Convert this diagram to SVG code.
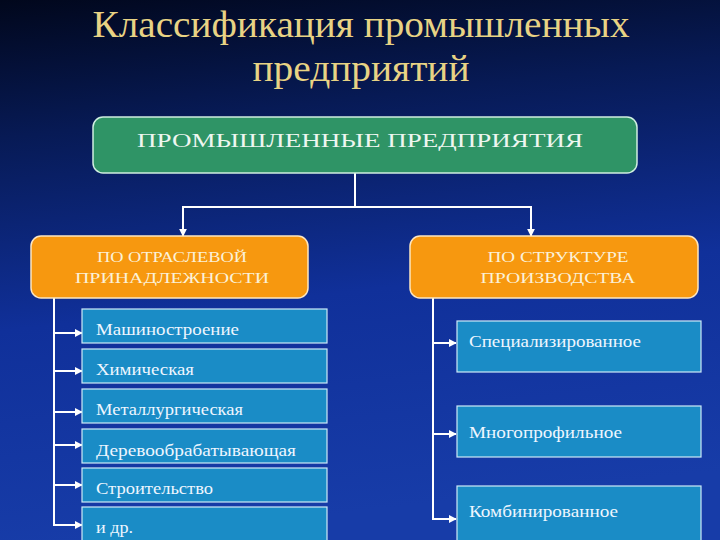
<svg xmlns="http://www.w3.org/2000/svg" width="720" height="540" viewBox="0 0 720 540">
<defs>
<linearGradient id="bg" x1="0" y1="0" x2="0.15" y2="1">
<stop offset="0" stop-color="#01071c"/>
<stop offset="0.25" stop-color="#071a55"/>
<stop offset="0.6" stop-color="#10309a"/>
<stop offset="1" stop-color="#173ca8"/>
</linearGradient>
<marker id="ah" viewBox="0 0 10 10" refX="9" refY="5" markerWidth="4" markerHeight="4" orient="auto" markerUnits="strokeWidth">
<path d="M0,0 L10,5 L0,10 z" fill="#ffffff"/>
</marker>
<style>
.title{font-family:"Liberation Serif",serif;font-size:38px;fill:#e8d384;text-anchor:middle}
.green{fill:#2f9466;stroke:#cfeee0;stroke-width:1.5}
.orange{fill:#f7980f;stroke:#fde6c0;stroke-width:1.5}
.blue{fill:#1a8cc6;stroke:#cde9f7;stroke-width:1.2}
.ht{font-family:"Liberation Serif",serif;font-size:19px;fill:#eef6f0;text-anchor:middle}
.ot{font-family:"Liberation Serif",serif;font-size:15px;fill:#fbf1d8;text-anchor:middle}
.bt{font-family:"Liberation Serif",serif;font-size:16px;fill:#eef6ff}
.ln{fill:none;stroke:#ffffff;stroke-width:2}
</style>
</defs>
<rect width="720" height="540" fill="url(#bg)"/>
<text class="title" x="361" y="37" textLength="537" lengthAdjust="spacingAndGlyphs">Классификация промышленных</text>
<text class="title" x="361" y="81" textLength="217" lengthAdjust="spacingAndGlyphs">предприятий</text>

<g id="connectors">
<path class="ln" d="M355,173 V207 M183,207 H531"/>
<path class="ln" d="M183,206 V236" marker-end="url(#ah)"/>
<path class="ln" d="M531,206 V236" marker-end="url(#ah)"/>
<path class="ln" d="M54,298 V526"/>
<path class="ln" d="M53,333 H82" marker-end="url(#ah)"/>
<path class="ln" d="M53,371 H82" marker-end="url(#ah)"/>
<path class="ln" d="M53,412 H82" marker-end="url(#ah)"/>
<path class="ln" d="M53,445 H82" marker-end="url(#ah)"/>
<path class="ln" d="M53,485 H82" marker-end="url(#ah)"/>
<path class="ln" d="M53,525 H82" marker-end="url(#ah)"/>
<path class="ln" d="M433,298 V520"/>
<path class="ln" d="M432,343 H456" marker-end="url(#ah)"/>
<path class="ln" d="M432,434 H456" marker-end="url(#ah)"/>
<path class="ln" d="M432,519 H456" marker-end="url(#ah)"/>
</g>

<g id="root">
<rect class="green" x="93" y="117" width="544" height="56" rx="10"/>
<text class="ht" x="360" y="147" textLength="446" lengthAdjust="spacingAndGlyphs">ПРОМЫШЛЕННЫЕ ПРЕДПРИЯТИЯ</text>
</g>
<g id="branch-left">
<rect class="orange" x="31" y="236" width="277" height="62" rx="10"/>
<text class="ot" x="172" y="262" textLength="150" lengthAdjust="spacingAndGlyphs">ПО ОТРАСЛЕВОЙ</text>
<text class="ot" x="172" y="283" textLength="194" lengthAdjust="spacingAndGlyphs">ПРИНАДЛЕЖНОСТИ</text>
</g>
<g id="branch-right">
<rect class="orange" x="410" y="236" width="288" height="62" rx="10"/>
<text class="ot" x="558" y="262" textLength="141" lengthAdjust="spacingAndGlyphs">ПО СТРУКТУРЕ</text>
<text class="ot" x="558" y="283" textLength="155" lengthAdjust="spacingAndGlyphs">ПРОИЗВОДСТВА</text>
</g>

<g id="n-mash"><rect class="blue" x="82" y="309" width="245" height="34"/><text class="bt" x="96" y="335" textLength="143" lengthAdjust="spacingAndGlyphs">Машиностроение</text></g>
<g id="n-him"><rect class="blue" x="82" y="349" width="245" height="34"/><text class="bt" x="96" y="375" textLength="98" lengthAdjust="spacingAndGlyphs">Химическая</text></g>
<g id="n-met"><rect class="blue" x="82" y="389" width="245" height="34"/><text class="bt" x="96" y="415" textLength="147" lengthAdjust="spacingAndGlyphs">Металлургическая</text></g>
<g id="n-der"><rect class="blue" x="82" y="429" width="245" height="34"/><text class="bt" x="96" y="456" textLength="200" lengthAdjust="spacingAndGlyphs">Деревообрабатывающая</text></g>
<g id="n-str"><rect class="blue" x="82" y="468" width="245" height="34"/><text class="bt" x="96" y="494" textLength="117" lengthAdjust="spacingAndGlyphs">Строительство</text></g>
<g id="n-dr"><rect class="blue" x="82" y="507" width="245" height="40"/><text class="bt" x="96" y="533" textLength="37" lengthAdjust="spacingAndGlyphs">и др.</text></g>

<g id="n-spec"><rect class="blue" x="457" y="321" width="244" height="51"/><text class="bt" x="469" y="347" textLength="172" lengthAdjust="spacingAndGlyphs">Специализированное</text></g>
<g id="n-mnog"><rect class="blue" x="457" y="406" width="244" height="51"/><text class="bt" x="469" y="438" textLength="153" lengthAdjust="spacingAndGlyphs">Многопрофильное</text></g>
<g id="n-komb"><rect class="blue" x="457" y="486" width="244" height="60"/><text class="bt" x="469" y="517" textLength="149" lengthAdjust="spacingAndGlyphs">Комбинированное</text></g>
</svg>
